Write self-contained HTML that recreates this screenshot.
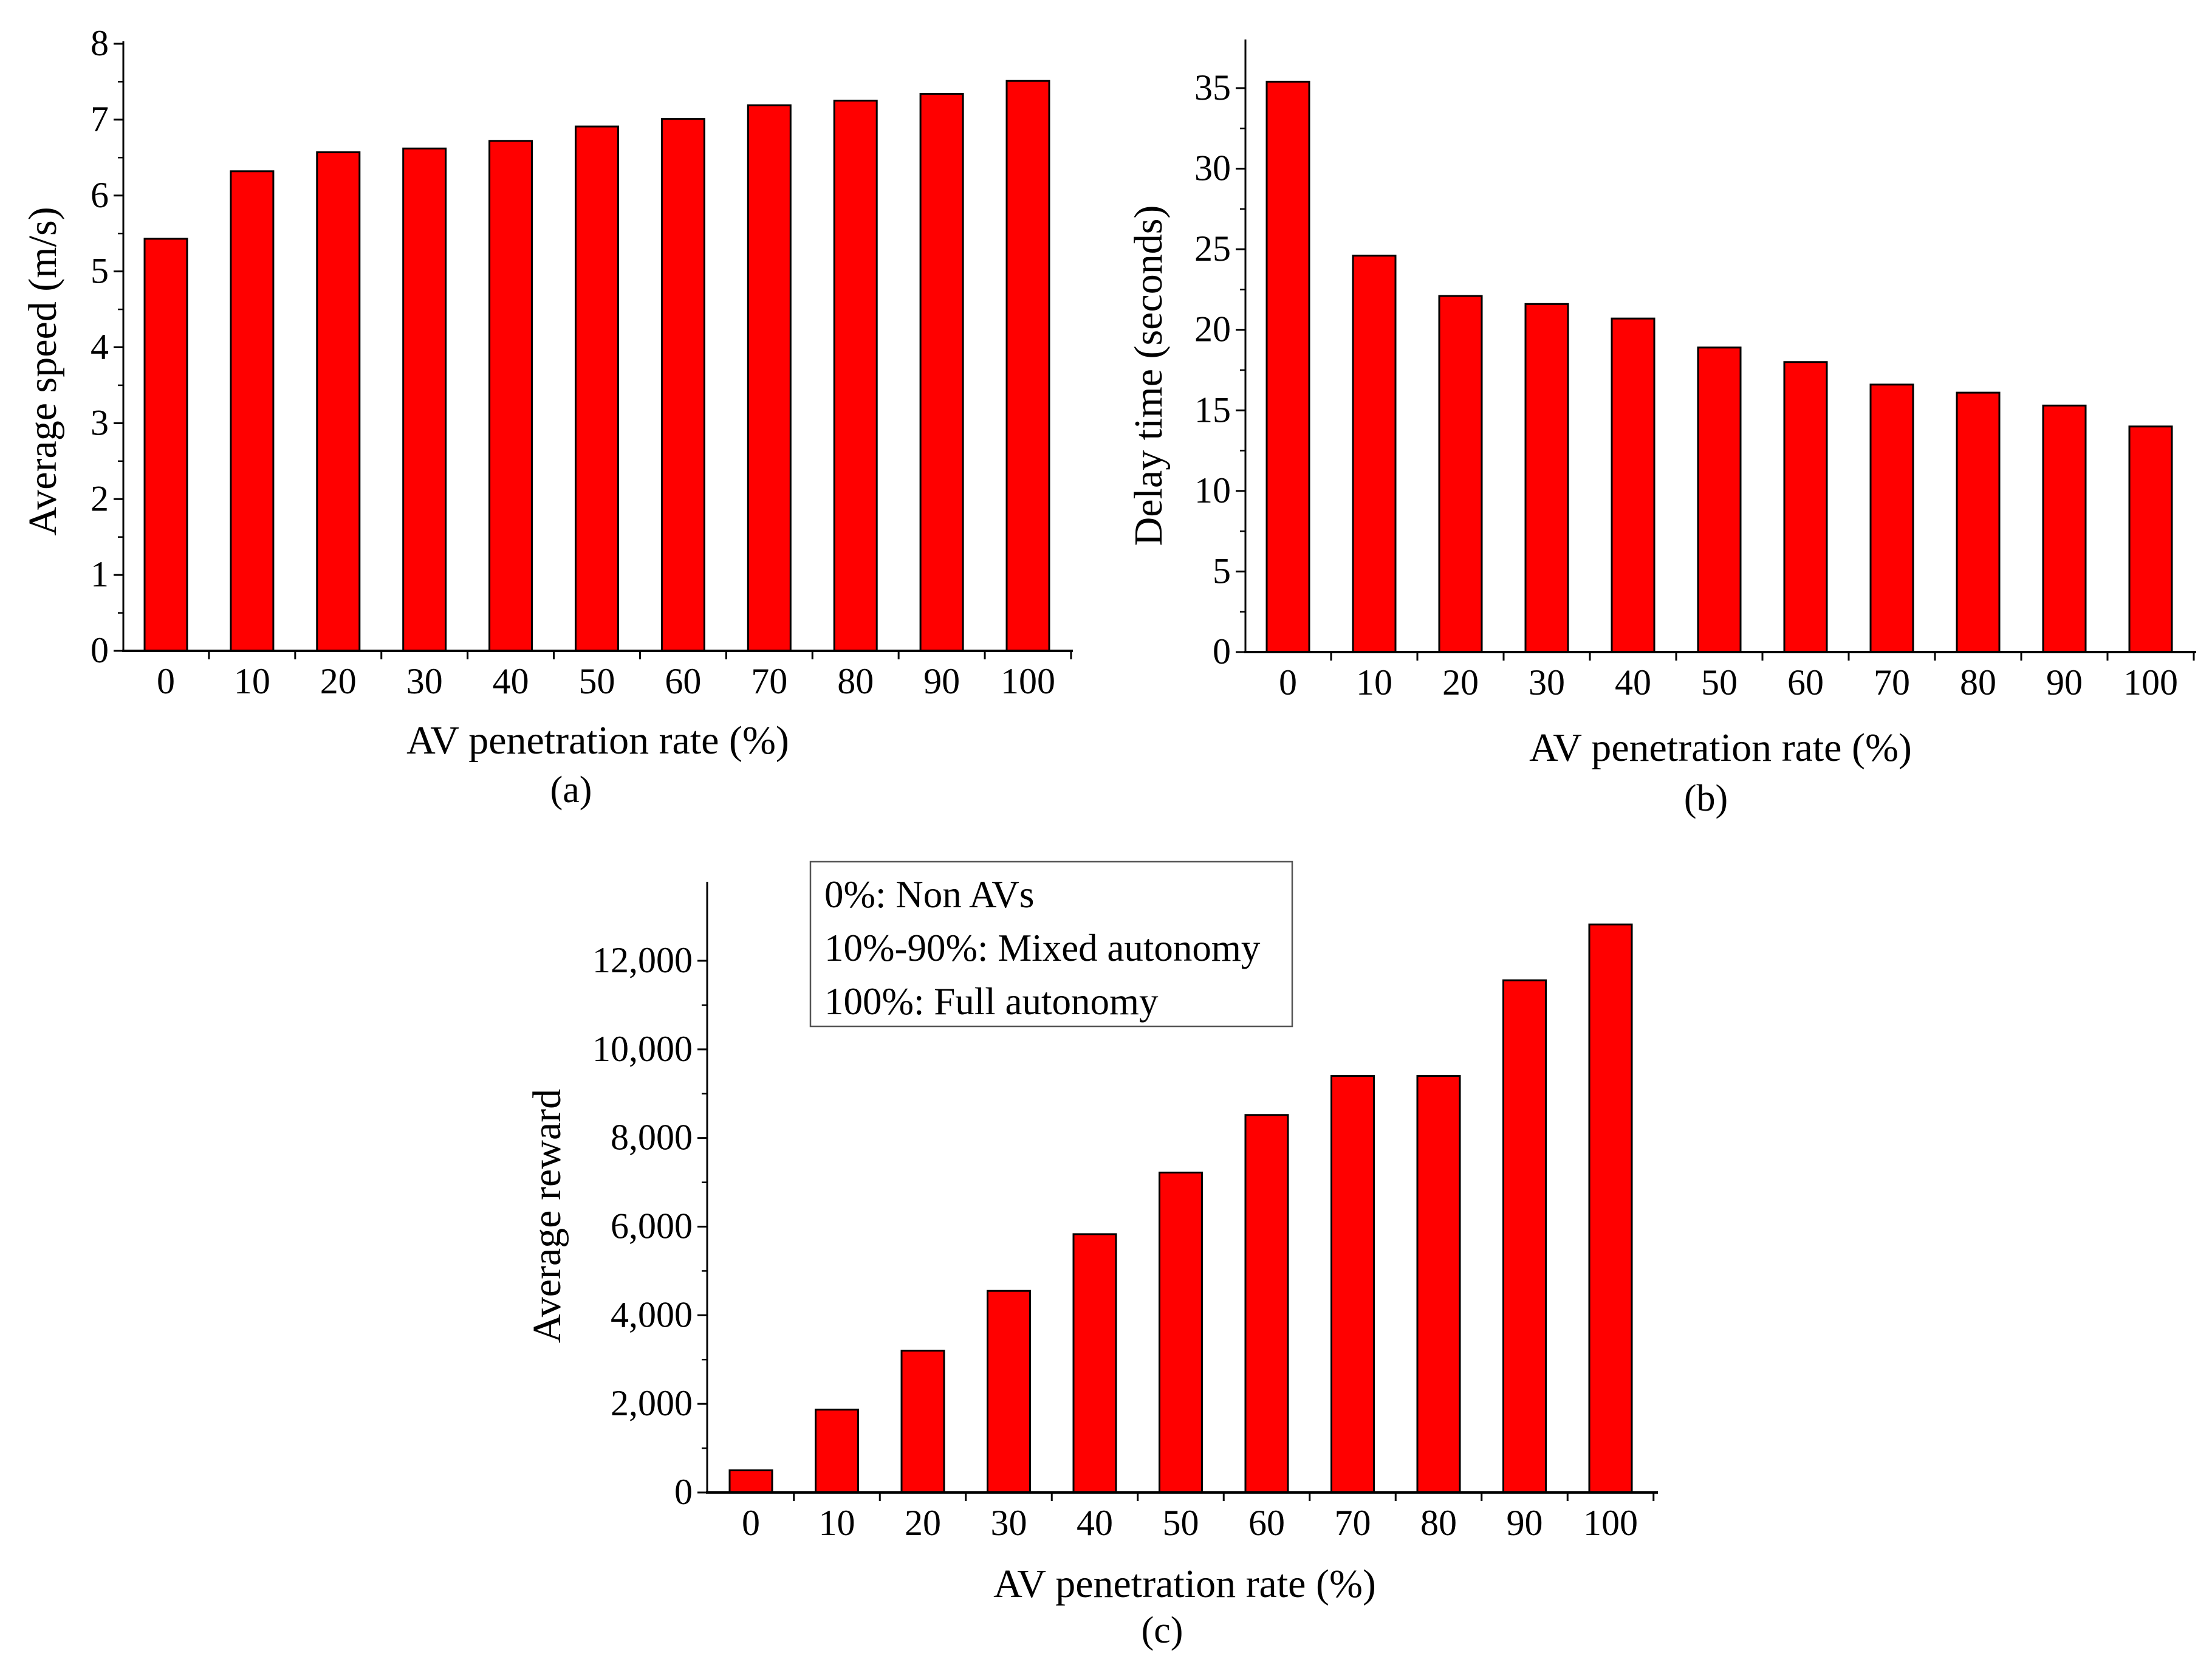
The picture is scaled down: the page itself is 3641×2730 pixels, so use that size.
<!DOCTYPE html>
<html><head><meta charset="utf-8"><style>
html,body{margin:0;padding:0;background:#fff}
svg{display:block}
text{font-family:"Liberation Serif",serif;fill:#000}
</style></head><body>
<svg id="fig" width="3641" height="2730" viewBox="0 0 3641 2730" xmlns="http://www.w3.org/2000/svg"></svg>
<script>
const categories=["0","10","20","30","40","50","60","70","80","90","100"];
const speedValues=[5.43,6.32,6.57,6.62,6.72,6.91,7.01,7.19,7.25,7.34,7.51];
const delayValues=[35.4,24.6,22.1,21.6,20.7,18.9,18.0,16.6,16.1,15.3,14.0];
const rewardValues=[500,1870,3200,4550,5830,7220,8520,9400,9400,11560,12820];
const speedTicks=[0,1,2,3,4,5,6,7,8];
const delayTicks=[0,5,10,15,20,25,30,35];
const rewardTicks=[0,2000,4000,6000,8000,10000,12000];
const rewardTickLabels=["0","2,000","4,000","6,000","8,000","10,000","12,000"];

const NS="http://www.w3.org/2000/svg";
const svg=document.getElementById('fig');
function mk(tag,attrs,parent){const e=document.createElementNS(NS,tag);for(const k in attrs)e.setAttribute(k,attrs[k]);(parent||svg).appendChild(e);return e;}

function chart(o){
  const g=mk('g',{});
  
  
  const y=v=>o.y0-(v-o.vmin)/(o.vmax-o.vmin)*(o.y0-o.ytop);
  const x=i=>o.x0+o.first+i*o.step;
  o.values.forEach((v,i)=>{
    const r=mk('rect',{x:x(i)-o.bw/2,y:y(v),width:o.bw,height:o.y0-y(v),fill:'#ff0000',stroke:'#000','stroke-width':3},g);
    
    
  });
  const ya=mk('line',{x1:o.x0,y1:o.axTop,x2:o.x0,y2:o.y0+2,stroke:'#000','stroke-width':3},g);
  
  const xa=mk('line',{x1:o.x0-2,y1:o.y0,x2:o.x1,y2:o.y0,stroke:'#000','stroke-width':4},g);
  
  o.ticks.forEach((t,i)=>{
    mk('line',{x1:o.x0-16,y1:y(t),x2:o.x0,y2:y(t),stroke:'#000','stroke-width':3},g);
    const tl=mk('text',{x:o.x0-24,y:y(t)+19,'font-size':60,'text-anchor':'end'},g);
    tl.textContent=o.tickLabels?o.tickLabels[i]:String(t);
    
  });
  for(let v=o.vmin+o.minor;v<o.vmax+0.001;v+=o.minor){
    if(y(v)<o.axTop)break;
    mk('line',{x1:o.x0-9,y1:y(v),x2:o.x0,y2:y(v),stroke:'#000','stroke-width':2.5},g);
  }
  for(let i=0;i<=categories.length;i++){
    const xx=x(i)-o.step/2;
    if(xx>o.x0+2) mk('line',{x1:xx,y1:o.y0,x2:xx,y2:o.y0+14,stroke:'#000','stroke-width':3},g);
  }
  categories.forEach((c,i)=>{
    const t=mk('text',{x:x(i),y:o.y0+70,'font-size':60,'text-anchor':'middle'},g);
    t.textContent=c;
    
  });
  const xt=mk('text',{x:o.xtX,y:o.xtY,'font-size':66,'text-anchor':'middle'},g);
  xt.textContent='AV penetration rate (%)';
  
  const yt=mk('text',{x:0,y:0,'font-size':66,'text-anchor':'middle',transform:`translate(${o.ytX},${o.ytY}) rotate(-90)`},g);
  yt.textContent=o.ytitle;
  
  const cap=mk('text',{x:o.capX,y:o.capY,'font-size':62,'text-anchor':'middle'},g);
  cap.textContent=o.cap;
  
}

chart({name:'speed-chart',values:speedValues,ticks:speedTicks,vmin:0,vmax:8,minor:0.5,
  x0:203,x1:1766,y0:1071,ytop:72,axTop:68,first:70,step:141.9,bw:70,
  xtX:984,xtY:1240,ytX:92,ytY:611,ytitle:'Average speed (m/s)',capX:940,capY:1320,cap:'(a)'});
chart({name:'delay-chart',values:delayValues,ticks:delayTicks,vmin:0,vmax:35,minor:2.5,
  x0:2050,x1:3615,y0:1073,ytop:145,axTop:65,first:70,step:142.0,bw:70,
  xtX:2832,xtY:1252,ytX:1912,ytY:618,ytitle:'Delay time (seconds)',capX:2808,capY:1334,cap:'(b)'});
chart({name:'reward-chart',values:rewardValues,ticks:rewardTicks,tickLabels:rewardTickLabels,vmin:0,vmax:12000,minor:1000,
  x0:1164,x1:2729,y0:2456,ytop:1581,axTop:1451,first:72,step:141.5,bw:70,
  xtX:1950,xtY:2628,ytX:922,ytY:2001,ytitle:'Average reward',capX:1913,capY:2703,cap:'(c)'});

const lg=mk('g',{});


mk('rect',{x:1334,y:1418,width:793,height:271,fill:'#fff',stroke:'#555','stroke-width':2.5},lg);
const lines=["0%: Non AVs","10%-90%: Mixed autonomy","100%: Full autonomy"];
lines.forEach((s,i)=>{
  const t=mk('text',{x:1357,y:1493+i*88,'font-size':63},lg);
  t.textContent=s;
  
  
});
</script>
</body></html>
